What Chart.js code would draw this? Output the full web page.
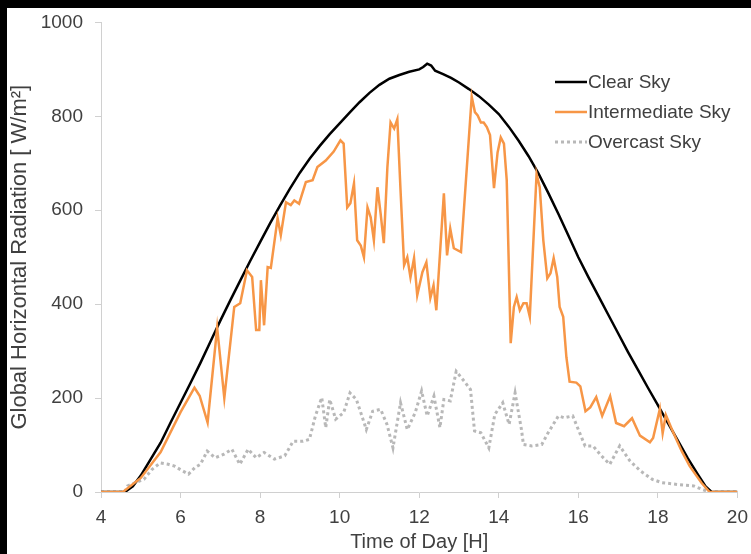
<!DOCTYPE html>
<html>
<head>
<meta charset="utf-8">
<script src="https://cdn.jsdelivr.net/npm/chart.js@4.4.1/dist/chart.umd.min.js"></script>
<style>
  html, body { margin: 0; padding: 0; background: #000; width: 751px; height: 554px; overflow: hidden; }
  #wrap { position: absolute; left: 7px; top: 8px; width: 744px; height: 546px; background: #fff; overflow: hidden; }
  canvas { display: block; position: absolute; left: 0; top: -9px; }
</style>
</head>
<body>
<div id="wrap"><canvas id="c" width="749" height="555"></canvas></div>
<script>
// ---- data ----
const seriesNames = ["Clear Sky", "Intermediate Sky", "Overcast Sky"];
const xTicks = [4, 6, 8, 10, 12, 14, 16, 18, 20];
const yTicks = [0, 200, 400, 600, 800, 1000];

const clearTimes = [4, 4.6, 4.8, 5.0, 5.25, 5.5, 5.75, 6.0, 6.25, 6.5, 6.75, 7.0, 7.25, 7.5, 7.75, 8.0, 8.25, 8.5, 8.75, 9.0, 9.25, 9.5, 9.75, 10.0, 10.25, 10.5, 10.75, 11.0, 11.25, 11.5, 11.75, 12.0, 12.1, 12.2, 12.3, 12.4, 12.6, 12.8, 13.0, 13.25, 13.5, 13.75, 14.0, 14.25, 14.5, 14.75, 15.0, 15.25, 15.5, 15.75, 16.0, 16.25, 16.5, 16.75, 17.0, 17.25, 17.5, 17.75, 18.0, 18.25, 18.5, 18.75, 19.0, 19.2, 19.35, 20];
const clearValues = [0, 0, 12, 35, 70, 105, 148, 190, 232, 275, 320, 365, 408, 450, 492, 532, 572, 610, 646, 680, 710, 737, 762, 785, 808, 830, 850, 867, 880, 888, 895, 900, 905, 912, 908, 897, 890, 882, 872, 858, 843, 825, 805, 778, 748, 715, 678, 636, 592, 546, 500, 458, 418, 378, 338, 298, 260, 222, 185, 147, 110, 72, 38, 12, 0, 0];

const interTimes = [4, 4.55, 5.0, 5.5, 6.0, 6.35, 6.48, 6.68, 6.92, 7.1, 7.35, 7.5, 7.67, 7.8, 7.9, 7.98, 8.02, 8.1, 8.19, 8.27, 8.44, 8.52, 8.65, 8.77, 8.86, 8.98, 9.15, 9.32, 9.44, 9.65, 9.85, 10.02, 10.1, 10.19, 10.27, 10.36, 10.44, 10.53, 10.61, 10.7, 10.78, 10.86, 10.95, 11.03, 11.11, 11.2, 11.28, 11.37, 11.45, 11.53, 11.62, 11.7, 11.78, 11.87, 11.95, 12.08, 12.18, 12.28, 12.36, 12.43, 12.62, 12.7, 12.78, 12.87, 13.05, 13.32, 13.4, 13.47, 13.55, 13.62, 13.7, 13.78, 13.88, 13.97, 14.05, 14.13, 14.2, 14.3, 14.38, 14.45, 14.53, 14.62, 14.7, 14.78, 14.95, 15.03, 15.12, 15.22, 15.3, 15.38, 15.47, 15.53, 15.62, 15.7, 15.78, 15.95, 16.05, 16.18, 16.3, 16.45, 16.6, 16.8, 16.95, 17.15, 17.35, 17.55, 17.8, 17.88, 18.05, 18.12, 18.2, 18.38, 18.6, 18.8, 19.1, 19.3, 20];
const interValues = [0, 0, 30, 85, 170, 222, 205, 148, 350, 200, 394, 402, 472, 458, 345, 345, 451, 355, 479, 477, 583, 547, 617, 611, 621, 614, 660, 664, 692, 706, 725, 749, 742, 606, 615, 657, 536, 525, 500, 606, 585, 536, 649, 593, 530, 692, 787, 774, 794, 643, 483, 500, 457, 498, 419, 468, 489, 413, 440, 387, 636, 504, 561, 519, 511, 842, 809, 802, 787, 787, 777, 760, 647, 723, 755, 742, 664, 317, 394, 415, 387, 402, 402, 373, 677, 649, 536, 455, 466, 498, 458, 394, 373, 287, 235, 233, 225, 172, 180, 202, 162, 204, 147, 140, 157, 120, 106, 115, 177, 125, 164, 128, 87, 55, 19, 0, 0];

const overTimes = [4, 4.6, 4.67, 4.87, 5.08, 5.28, 5.49, 5.69, 5.85, 6.05, 6.2, 6.36, 6.5, 6.67, 6.87, 7.08, 7.29, 7.49, 7.7, 7.9, 8.1, 8.36, 8.62, 8.83, 9.08, 9.24, 9.39, 9.55, 9.65, 9.75, 9.9, 10.1, 10.26, 10.42, 10.52, 10.67, 10.83, 11.03, 11.19, 11.34, 11.53, 11.7, 11.9, 12.06, 12.2, 12.37, 12.52, 12.62, 12.78, 12.93, 13.13, 13.29, 13.39, 13.55, 13.75, 13.9, 14.1, 14.26, 14.41, 14.57, 14.62, 14.83, 15.08, 15.24, 15.5, 15.65, 15.86, 16.0, 16.17, 16.37, 16.58, 16.79, 17.04, 17.3, 17.56, 17.86, 18.1, 18.5, 18.9, 19.1, 19.3, 20];
const overValues = [0, 0, 13, 20, 27, 48, 62, 59, 55, 45, 38, 52, 59, 87, 73, 80, 91, 59, 91, 73, 84, 70, 77, 108, 108, 112, 162, 201, 137, 197, 155, 169, 211, 197, 172, 133, 172, 176, 144, 94, 190, 133, 169, 215, 162, 204, 137, 197, 194, 257, 236, 218, 130, 126, 94, 165, 190, 144, 211, 133, 101, 98, 101, 126, 162, 158, 162, 133, 98, 98, 77, 59, 98, 66, 45, 27, 20, 16, 13, 6, 0, 0];

const seriesColors = ["#000000", "#F79646", "#b8b8b8"];

function pts(ts, vs) { return ts.map((t, i) => ({ x: t, y: vs[i] })); }

const FONT = "'Liberation Sans', Arial, sans-serif";
const TEXT = "#404040";

const legendPlugin = {
  id: 'insideLegend',
  afterDraw(chart) {
    const ctx = chart.ctx;
    const rows = [83, 113, 143];
    const x0 = 548, x1 = 580;
    ctx.save();
    ctx.font = "19px " + FONT;
    ctx.textBaseline = 'middle';
    ctx.textAlign = 'left';
    seriesNames.forEach((name, i) => {
      ctx.beginPath();
      ctx.strokeStyle = seriesColors[i];
      ctx.lineWidth = i === 2 ? 3 : 2.5;
      ctx.setLineDash(i === 2 ? [3, 3] : []);
      ctx.moveTo(x0, rows[i]);
      ctx.lineTo(x1, rows[i]);
      ctx.stroke();
      ctx.setLineDash([]);
      ctx.fillStyle = TEXT;
      ctx.fillText(name, x1 + 1, rows[i] + 1);
    });
    ctx.restore();
  }
};

new Chart(document.getElementById('c'), {
  type: 'line',
  data: {
    datasets: [
      { label: seriesNames[0], data: pts(clearTimes, clearValues), borderColor: seriesColors[0], borderWidth: 2.5, pointRadius: 0, tension: 0, order: 2 },
      { label: seriesNames[1], data: pts(interTimes, interValues), borderColor: seriesColors[1], borderWidth: 2.5, pointRadius: 0, tension: 0, order: 1 },
      { label: seriesNames[2], data: pts(overTimes, overValues), borderColor: seriesColors[2], borderWidth: 3, borderDash: [3, 3], pointRadius: 0, tension: 0, order: 3 }
    ]
  },
  options: {
    responsive: false,
    animation: false,
    events: [],
    layout: { padding: { top: 5, right: 8, left: 0, bottom: 0 } },
    plugins: { legend: { display: false }, tooltip: { enabled: false } },
    scales: {
      x: {
        type: 'linear', min: 4, max: 20,
        afterBuildTicks: (s) => { s.ticks = xTicks.map(v => ({ value: v })); },
        afterFit: (s) => { s.height = 62; },
        ticks: { color: TEXT, font: { family: FONT, size: 19 }, padding: 8, maxRotation: 0, callback: (v) => String(v) },
        grid: { drawOnChartArea: false, drawTicks: true, tickLength: 6, color: '#d0d0d0' },
        border: { color: '#d0d0d0', width: 1 },
        title: { display: true, text: 'Time of Day [H]', color: TEXT, font: { family: FONT, size: 20 }, padding: { top: 0, bottom: 0 } }
      },
      y: {
        min: 0, max: 1000,
        afterBuildTicks: (s) => { s.ticks = yTicks.map(v => ({ value: v })); },
        afterFit: (s) => { s.width = 94; },
        ticks: { color: TEXT, font: { family: FONT, size: 19 }, padding: 12, callback: (v) => String(v) },
        grid: { drawOnChartArea: false, drawTicks: true, tickLength: 6, color: '#d0d0d0' },
        border: { color: '#d0d0d0', width: 1 },
        title: { display: true, text: 'Global Horizontal Radiation [ W/m²]', color: TEXT, font: { family: FONT, size: 22 }, padding: { top: 0, bottom: 0 } }
      }
    }
  },
  plugins: [legendPlugin]
});
</script>
</body>
</html>
